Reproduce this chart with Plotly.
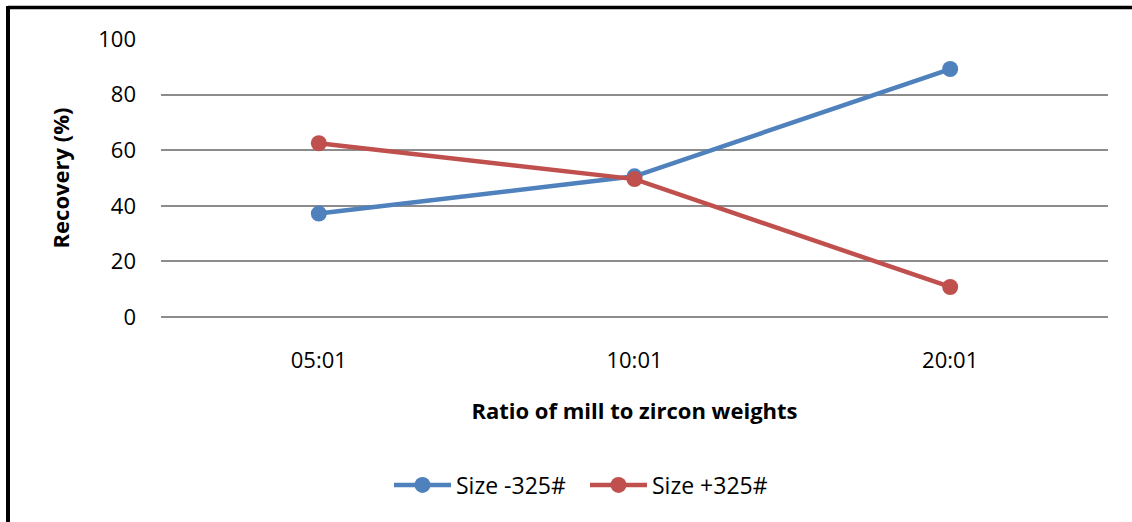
import plotly.graph_objects as go

# Milling ratio categories and recovery values (%)
ratios = ["05:01", "10:01", "20:01"]
size_minus_325 = [37.2, 50.6, 89.2]
size_plus_325 = [62.5, 49.6, 10.8]
y_ticks = [0, 20, 40, 60, 80, 100]

BLUE = "#4F81BD"
RED = "#C0504D"
GRID = "#8c8c8c"
FONT = "Open Sans"

W, H = 1132, 522
L, R, T, B = 161, 24, 39, 205
plot_w = W - L - R
plot_h = H - T - B


def px_x(x):
    return (x - L) / plot_w


def px_y(y):
    return (H - B - y) / plot_h


fig = go.Figure()
fig.add_trace(go.Scatter(
    x=ratios, y=size_minus_325, name="Size -325#", mode="lines+markers",
    line=dict(color=BLUE, width=4.5), marker=dict(size=16, color=BLUE),
))
fig.add_trace(go.Scatter(
    x=ratios, y=size_plus_325, name="Size +325#", mode="lines+markers",
    line=dict(color=RED, width=4.5), marker=dict(size=16, color=RED),
))

# Frame lines along the top and left edges of the figure
fig.add_shape(type="line", xref="paper", yref="paper",
              x0=px_x(8), x1=px_x(W + 5), y0=px_y(7.5), y1=px_y(7.5),
              line=dict(color="black", width=3.5))
fig.add_shape(type="line", xref="paper", yref="paper",
              x0=px_x(8), x1=px_x(8), y0=px_y(6), y1=px_y(H + 5),
              line=dict(color="black", width=4))

fig.update_layout(
    width=W, height=H,
    margin=dict(l=L, r=R, t=T, b=B),
    paper_bgcolor="white", plot_bgcolor="white",
    font=dict(family=FONT, size=22, color="black"),
    showlegend=True,
    legend=dict(
        orientation="h", x=px_x(585), y=px_y(485),
        xanchor="center", yanchor="middle",
        font=dict(family=FONT, size=23, color="black"),
        itemwidth=57, entrywidth=124, entrywidthmode="pixels",
    ),
    xaxis=dict(
        type="category", range=[-0.5, 2.5],
        showgrid=False, zeroline=False, showline=False,
        ticks="", tickfont=dict(size=22),
        ticklabelstandoff=28,
        title=dict(text="<b>Ratio of mill to zircon weights</b>",
                   font=dict(size=22), standoff=30),
    ),
    yaxis=dict(
        range=[0, 100], tickvals=y_ticks,
        showgrid=True, gridcolor=GRID, gridwidth=1.5,
        zeroline=True, zerolinecolor=GRID, zerolinewidth=1.5,
        showline=False, ticks="", tickfont=dict(size=22),
        ticklabelstandoff=24,
        title=dict(text="<b>Recovery (%)</b>", font=dict(size=22), standoff=22),
    ),
)

fig.write_html("out.html")
